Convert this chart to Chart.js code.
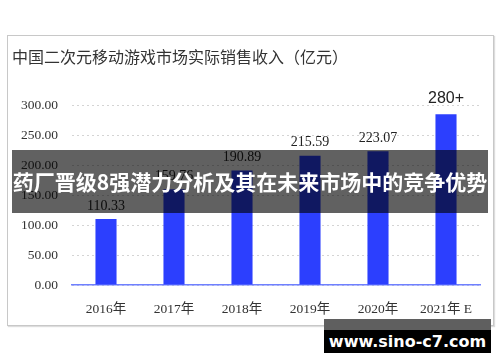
<!DOCTYPE html>
<html>
<head>
<meta charset="utf-8">
<script src="https://cdn.jsdelivr.net/npm/chart.js@4"></script>
<style>
  body { margin: 0; width: 500px; height: 362px; background: #fff; position: relative; overflow: hidden; }
  #box { position: absolute; left: 7px; top: 35px; width: 485px; height: 289px; border: 1px solid #c8c8c8; box-shadow: 1px 1px 1px #ddd; }
  #banner { position: absolute; left: 12px; top: 150px; width: 476px; height: 63px; background: rgba(0,0,0,0.62);
    color: #fff; font: bold 21px "Noto Sans CJK SC", sans-serif; line-height: 63px; text-align: center; white-space: nowrap; }
  #wm-top { position: absolute; left: 324px; top: 319px; width: 167px; height: 11px; background: #5f5f5f; }
  #wm { position: absolute; left: 324px; top: 330px; width: 167px; height: 23px; background: #000;
    color: #fff; font: bold 16px "DejaVu Sans", sans-serif; line-height: 23px; text-align: center; }
</style>
</head>
<body>
<div id="box"><canvas id="myChart" width="485" height="289"></canvas></div>
<div id="banner">药厂晋级8强潜力分析及其在未来市场中的竞争优势</div>
<div id="wm-top"></div>
<div id="wm">www.sino-c7.com</div>
<script>
const chartTitle = "中国二次元移动游戏市场实际销售收入（亿元）";
const years = ["2016年", "2017年", "2018年", "2019年", "2020年", "2021年 E"];
const revenue = [110.33, 159.76, 190.89, 215.59, 223.07, 285];
const valueLabels = ["110.33", "159.76", "190.89", "215.59", "223.07", "280+"];
const yTicks = [0, 50, 100, 150, 200, 250, 300];

// write the numbers above the bars
const barLabels = {
  id: "barLabels",
  afterDatasetsDraw(chart) {
    const ctx = chart.ctx;
    const bars = chart.getDatasetMeta(0).data;
    ctx.save();
    ctx.textAlign = "center";
    ctx.textBaseline = "bottom";
    ctx.fillStyle = "#222";
    bars.forEach((bar, i) => {
      if (valueLabels[i].endsWith("+")) {
        ctx.font = "16px 'Liberation Sans', sans-serif";
        ctx.fillText(valueLabels[i], bar.x, bar.y - 8);
      } else {
        ctx.font = "14px 'Liberation Serif', serif";
        ctx.fillText(valueLabels[i], bar.x, bar.y - 6);
      }
    });
    ctx.restore();
  }
};

const ctx = document.getElementById("myChart");
new Chart(ctx, {
  type: "bar",
  data: {
    labels: years,
    datasets: [
      {
        label: "收入",
        data: revenue,
        backgroundColor: "#2c3ffe",
        barPercentage: 0.62,
        categoryPercentage: 0.5,
      },
    ],
  },
  options: {
    responsive: false,
    animation: false,
    layout: { padding: { left: 4, right: 13, top: 0, bottom: 0 } },
    plugins: {
      legend: { display: false },
      tooltip: { enabled: false },
      title: {
        display: true,
        text: chartTitle,
        align: "start",
        color: "#333",
        font: { family: "'Noto Sans CJK SC', sans-serif", size: 16, weight: "normal" },
        padding: { top: 11, bottom: 39 },
      },
    },
    scales: {
      x: {
        grid: { display: false },
        border: { color: "#6f80ff", width: 1.5 },
        ticks: {
          color: "#333",
          padding: 8,
          font: { family: "'Liberation Serif', 'Noto Sans CJK SC', serif", size: 13.5 },
        },
        afterFit: (scale) => { scale.height = 40; },
      },
      y: {
        min: 0,
        max: 300,
        border: { display: false, dash: [2, 3] },
        grid: { color: "#d4d4d4", drawTicks: false },
        afterBuildTicks: (scale) => { scale.ticks = yTicks.map((v) => ({ value: v })); },
        afterFit: (scale) => { scale.width = 60; },
        ticks: {
          color: "#333",
          padding: 14,
          font: { family: "'Liberation Serif', serif", size: 13.5 },
          callback: (v) => v.toFixed(2),
        },
      },
    },
  },
  plugins: [barLabels],
});
</script>
</body>
</html>
